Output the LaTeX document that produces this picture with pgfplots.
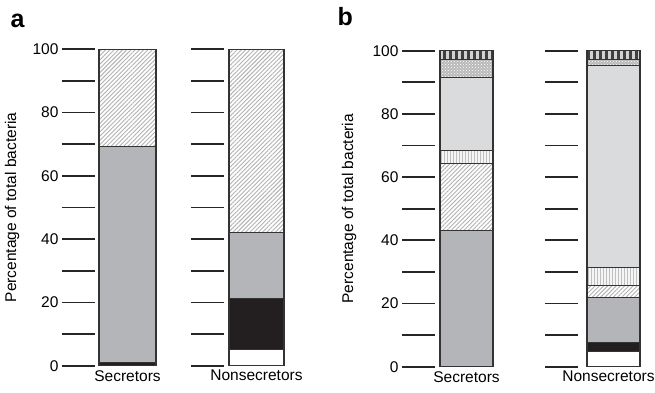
\documentclass[border=0pt]{standalone}
\usepackage{pgfplots}
\pgfplotsset{compat=1.18}
\usepackage{fontspec}
\setmainfont{Liberation Sans}
\usetikzlibrary{patterns,patterns.meta}
\definecolor{bargray}{RGB}{180,181,185}
\definecolor{lightgray2}{RGB}{218,219,221}
\definecolor{nearblack}{RGB}{35,31,32}
\pgfplotsset{
  panel/.style={
    scale only axis, clip=false,
    xmin=0, xmax=#1, ymin=0, ymax=100,
    width=#1pt,
    axis x line=bottom, axis y line=left,
    axis line style={draw=none,-},
    ybar stacked,
    ytick={0,10,...,100},
    tick align=outside,
    major tick length=33pt,
    ytick style={line width=1.7pt, color=black!85},
    xtick style={draw=none},
    /pgf/number format/assume math mode=true,
    tick label style={font=\fontsize{15.5}{17}\selectfont},
    xticklabel style={yshift=32pt},
    label style={font=\fontsize{15.5}{17}\selectfont},
    every axis plot/.append style={draw=black!80, line width=1.1pt},
  },
  dhatch/.style={fill=white, postaction={pattern={Lines[angle=45,distance=3pt,line width=0.9pt]}, pattern color=gray!60}},
  vhatch/.style={fill=gray!8, postaction={pattern={Lines[angle=90,distance=3pt,line width=1pt]}, pattern color=gray!50}},
  cdots/.style={fill=gray!55, postaction={pattern=crosshatch dots, pattern color=white}},
  stripes/.style={fill=gray!35, postaction={pattern={Lines[angle=90,distance=6pt,line width=3pt]}, pattern color=black!75}},
}
\begin{document}
\begin{tikzpicture}
\path[use as bounding box] (0pt,0pt) rectangle (655pt,393pt);
\node[anchor=base west, font=\fontsize{25}{28}\selectfont\bfseries] at (7pt,365pt) {a};
\node[anchor=base west, font=\fontsize{25}{28}\selectfont\bfseries] at (334pt,367pt) {b};

% Panel a, secretors
\begin{axis}[panel=61, at={(95pt,27.3pt)}, anchor=south west, height=316.4pt,
  bar width=57, xtick={32.5}, xticklabels={Secretors},
  yticklabels={0,,20,,40,,60,,80,,100},
  ylabel={Percentage of total bacteria},
  ylabel style={at={(axis description cs:-1.36,0.5)}, anchor=center}]
\addplot[fill=nearblack] coordinates {(32.5,0.9)};
\addplot[fill=bargray] coordinates {(32.5,68.3)};
\addplot[dhatch] coordinates {(32.5,30.8)};
\end{axis}

% Panel a, nonsecretors
\begin{axis}[panel=60, at={(224pt,27.3pt)}, anchor=south west, height=316.4pt,
  bar width=55, xtick={32.5}, xticklabels={Nonsecretors},
  yticklabels={}]
\addplot[fill=white] coordinates {(32.5,5.0)};
\addplot[fill=nearblack] coordinates {(32.5,16.1)};
\addplot[fill=bargray] coordinates {(32.5,21.1)};
\addplot[dhatch] coordinates {(32.5,57.8)};
\end{axis}

% Panel b, secretors
\begin{axis}[panel=58, at={(435pt,26.3pt)}, anchor=south west, height=316pt,
  bar width=53, xtick={31.5}, xticklabels={Secretors},
  yticklabels={0,,20,,40,,60,,80,,100},
  ylabel={Percentage of total bacteria},
  ylabel style={at={(axis description cs:-1.48,0.5)}, anchor=center}]
\addplot[fill=bargray] coordinates {(31.5,43.0)};
\addplot[dhatch] coordinates {(31.5,21.4)};
\addplot[vhatch] coordinates {(31.5,4.0)};
\addplot[fill=lightgray2] coordinates {(31.5,23.2)};
\addplot[cdots] coordinates {(31.5,5.7)};
\addplot[stripes] coordinates {(31.5,2.7)};
\end{axis}

% Panel b, nonsecretors
\begin{axis}[panel=62, at={(578pt,26.3pt)}, anchor=south west, height=316pt,
  bar width=53, xtick={35.5}, xticklabels={Nonsecretors},
  xticklabel style={xshift=-5pt},
  yticklabels={}]
\addplot[fill=white] coordinates {(35.5,4.75)};
\addplot[fill=nearblack] coordinates {(35.5,2.95)};
\addplot[fill=bargray] coordinates {(35.5,14.1)};
\addplot[dhatch] coordinates {(35.5,3.8)};
\addplot[vhatch] coordinates {(35.5,5.7)};
\addplot[fill=lightgray2] coordinates {(35.5,64.0)};
\addplot[cdots] coordinates {(35.5,1.8)};
\addplot[stripes] coordinates {(35.5,2.9)};
\end{axis}
\end{tikzpicture}
\end{document}
